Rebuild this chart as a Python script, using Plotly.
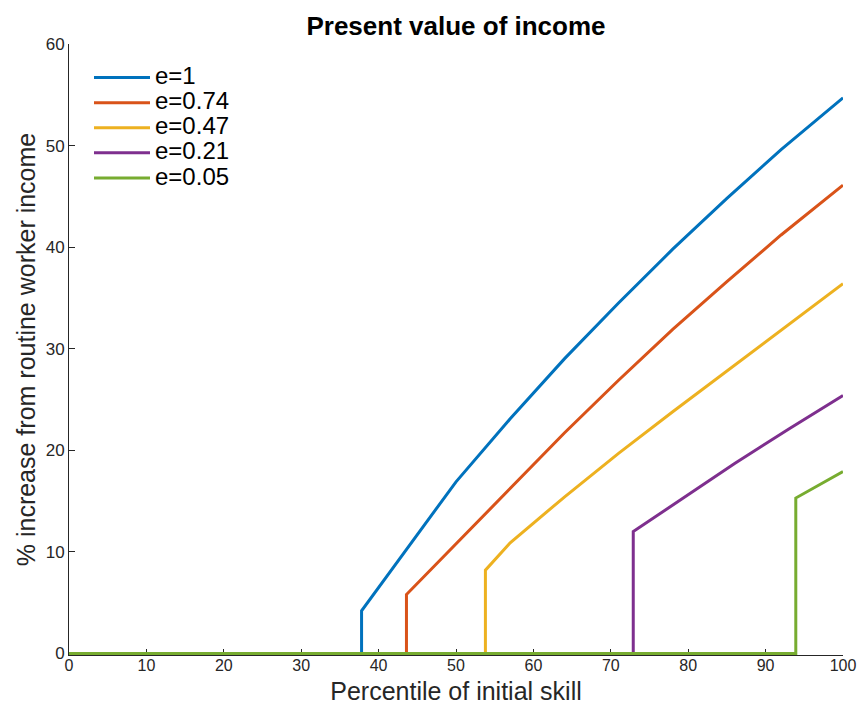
import plotly.graph_objects as go

# Data
names = ["e=1", "e=0.74", "e=0.47", "e=0.21", "e=0.05"]
colors = ["#0072BD", "#D95319", "#EDB120", "#7E2F8E", "#77AC30"]

blue_x = [0, 37.8, 37.8, 43.3, 50, 57, 64, 71, 78, 85, 92, 100]
blue_y = [0, 0, 4.2, 9.9, 16.9, 23.1, 29.0, 34.5, 39.8, 44.8, 49.6, 54.7]

red_x = [0, 43.6, 43.6, 50, 57, 64, 71, 78, 85, 92, 100]
red_y = [0, 0, 5.8, 10.8, 16.3, 21.7, 26.9, 31.9, 36.6, 41.2, 46.1]

orange_x = [0, 53.8, 53.8, 57, 64, 71, 78, 85, 92, 100]
orange_y = [0, 0, 8.2, 10.9, 15.4, 19.7, 23.8, 27.8, 31.8, 36.4]

purple_x = [0, 72.9, 72.9, 79, 86, 93, 100]
purple_y = [0, 0, 12.0, 15.1, 18.7, 22.1, 25.4]

green_x = [0, 93.9, 93.9, 100]
green_y = [0, 0, 15.3, 17.9]

series_x = [blue_x, red_x, orange_x, purple_x, green_x]
series_y = [blue_y, red_y, orange_y, purple_y, green_y]

x_ticks = [0, 10, 20, 30, 40, 50, 60, 70, 80, 90, 100]
y_ticks = [0, 10, 20, 30, 40, 50, 60]

FONT = "Liberation Sans, Arial, sans-serif"
AX = "#262626"

fig = go.Figure()
for nm, c, xs, ys in zip(names, colors, series_x, series_y):
    fig.add_trace(go.Scatter(
        x=xs, y=ys, mode="lines", name='<span style="font-size:24px">' + nm + "</span>",
        line=dict(color=c, width=3),
    ))

fig.update_layout(
    width=860, height=705,
    margin=dict(l=69, r=17, t=44, b=50),
    paper_bgcolor="white", plot_bgcolor="white",
    font=dict(family=FONT, color=AX, size=17),
    title=dict(text="<b>Present value of income</b>", x=456 / 860, xanchor="center",
               y=1 - 26 / 705, yanchor="middle", yref="container",
               font=dict(family=FONT, size=26, color="black")),
    showlegend=True,
    legend=dict(x=(89 - 69) / 774, y=(655 - 60) / 611, xanchor="left", yanchor="top",
                bgcolor="rgba(0,0,0,0)", borderwidth=0,
                font=dict(family=FONT, size=17, color="black"),
                itemwidth=56, tracegroupgap=0),
    xaxis=dict(range=[0, 100], tickvals=x_ticks, ticktext=[str(v) for v in x_ticks],
               ticks="inside", ticklen=6, tickcolor=AX, tickwidth=1,
               showline=True, linecolor=AX, linewidth=1, showgrid=False, zeroline=False,
               tickfont=dict(size=16, color=AX), automargin=False, ticklabelstandoff=-4,
               title=dict(text="Percentile of initial skill", font=dict(size=25, color=AX), standoff=10),
               layer="below traces"),
    yaxis=dict(range=[-0.15, 60], tickvals=y_ticks, ticktext=[str(v) for v in y_ticks],
               ticks="inside", ticklen=6, tickcolor=AX, tickwidth=1,
               showline=True, linecolor=AX, linewidth=1, showgrid=False, zeroline=False,
               tickfont=dict(size=17, color=AX), automargin=False,
               title=dict(text="% increase from routine worker income", font=dict(size=25, color=AX), standoff=2),
               layer="below traces"),
)

fig.write_html("out.html", config={"displayModeBar": False},
               post_script="document.body.style.margin='0px';")
